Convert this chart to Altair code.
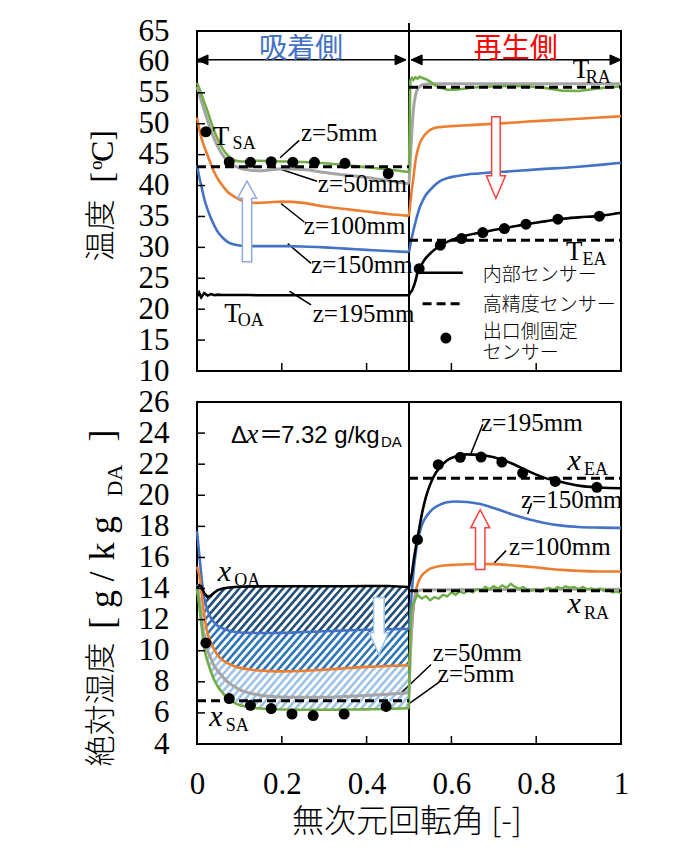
import numpy as np
import pandas as pd
import altair as alt

# ------------------------------------------------------------------ data
XL = [0, 0.005, 0.01, 0.017, 0.025, 0.033, 0.041, 0.049, 0.06, 0.072, 0.088,
      0.104, 0.123, 0.143, 0.17, 0.2, 0.25, 0.3, 0.35, 0.4, 0.45, 0.5]
XR = [0.5, 0.503, 0.507, 0.51, 0.515, 0.52, 0.525, 0.532, 0.54, 0.55, 0.56,
      0.575, 0.59, 0.61, 0.637, 0.665, 0.7, 0.74, 0.78, 0.82, 0.86, 0.9, 0.95, 1.0]
XG = [0.5, 0.503, 0.506, 0.51, 0.52, 0.53, 0.54, 0.55, 0.56, 0.57, 0.58, 0.59,
      0.60, 0.61, 0.62, 0.63, 0.64, 0.65, 0.66, 0.67, 0.68, 0.69, 0.70, 0.71,
      0.72, 0.73, 0.74, 0.75, 0.76, 0.77, 0.78, 0.79, 0.80, 0.81, 0.82, 0.83,
      0.84, 0.85, 0.86, 0.87, 0.88, 0.89, 0.90, 0.91, 0.92, 0.93, 0.94, 0.95,
      0.96, 0.97, 0.98, 0.99, 1.00]

# temperature [degC]
T_GREEN_L = [56.6, 55.8, 54.8, 53.5, 52.0, 50.3, 48.8, 47.5, 46.0, 44.9, 44.1,
             43.9, 43.95, 44.0, 43.95, 43.9, 43.8, 43.6, 43.3, 42.95, 42.6, 42.2]
T_GRAY_L = [56.0, 54.9, 53.7, 52.2, 50.5, 48.9, 47.5, 46.3, 45.0, 44.0, 43.2,
            42.75, 42.5, 42.4, 42.5, 42.7, 42.6, 42.1, 41.7, 41.3, 40.8, 40.3]
T_ORANGE_L = [51.0, 49.3, 47.8, 46.3, 44.9, 43.4, 42.1, 41.1, 40.0, 39.0, 38.2,
              37.6, 37.3, 37.2, 37.3, 37.4, 37.2, 36.6, 36.2, 35.8, 35.4, 35.1]
T_BLUE_L = [43.3, 41.5, 40.0, 37.9, 36.1, 34.7, 33.5, 32.5, 31.6, 30.9, 30.45,
            30.25, 30.2, 30.2, 30.2, 30.2, 30.15, 30.0, 29.8, 29.6, 29.4, 29.25]
T_BLACK_L = [22.0, 22.7, 21.9, 22.6, 22.2, 22.45, 22.25, 22.35, 22.3, 22.3, 22.3,
             22.3, 22.3, 22.25, 22.25, 22.25, 22.25, 22.25, 22.25, 22.25, 22.25, 22.25]
T_GREEN_R = [42.2, 57.0, 57.4, 57.1, 57.5, 57.3, 57.6, 57.4, 57.2, 56.8, 56.3,
             55.8, 55.5, 55.5, 55.75, 55.95, 56.05, 56.1, 56.05, 55.8, 55.35, 55.3, 55.75, 56.05]
T_GRAY_R = [40.3, 44.0, 49.0, 52.0, 54.5, 55.6, 56.0, 56.3, 56.4, 56.45, 56.45,
            56.45, 56.45, 56.45, 56.45, 56.45, 56.45, 56.45, 56.45, 56.45, 56.45, 56.45, 56.45, 56.45]
T_ORANGE_R = [35.1, 37.0, 39.5, 41.0, 43.9, 45.6, 46.7, 47.7, 48.4, 49.0, 49.3,
              49.45, 49.55, 49.65, 49.75, 49.85, 50.0, 50.15, 50.35, 50.5, 50.65, 50.8, 51.0, 51.2]
T_BLUE_R = [29.25, 30.3, 31.7, 32.6, 34.0, 35.3, 36.4, 37.5, 38.5, 39.3, 40.0,
            40.8, 41.2, 41.5, 41.8, 41.95, 42.15, 42.3, 42.5, 42.7, 42.85, 43.05, 43.35, 43.7]
T_BLACK_R = [22.25, 22.7, 23.0, 23.5, 24.5, 25.9, 26.6, 27.5, 28.3, 29.0, 29.6,
             30.35, 30.9, 31.45, 31.95, 32.35, 32.8, 33.3, 33.8, 34.2, 34.6, 34.85, 35.1, 35.6]
T_DOT_X = [0.021, 0.076, 0.126, 0.175, 0.226, 0.277, 0.349, 0.451,
           0.524, 0.574, 0.624, 0.674, 0.725, 0.776, 0.851, 0.949]
T_DOT_V = [48.7, 43.8, 43.75, 43.85, 43.75, 43.75, 43.6, 41.95,
           26.56, 30.35, 31.42, 32.39, 33.04, 33.75, 34.56, 35.05]
T_SA, T_RA, T_EA = 43.05, 55.9, 31.15

# absolute humidity [g/kgDA]
H_BLACK_L = [14.0, 14.2, 14.15, 13.7, 13.45, 13.55, 13.75, 13.9, 14.0, 14.05, 14.1,
             14.12, 14.14, 14.14, 14.15, 14.15, 14.15, 14.15, 14.15, 14.16, 14.16, 14.1]
H_BLUE_L = [17.7, 16.3, 14.9, 13.4, 12.6, 12.1, 11.8, 11.6, 11.45, 11.32, 11.22,
            11.17, 11.15, 11.14, 11.14, 11.15, 11.2, 11.25, 11.3, 11.35, 11.38, 11.4]
H_ORANGE_L = [15.4, 14.9, 13.9, 12.3, 11.1, 10.5, 10.05, 9.7, 9.4, 9.2, 9.0,
              8.88, 8.8, 8.73, 8.69, 8.67, 8.7, 8.78, 8.87, 8.96, 9.02, 9.06]
H_GRAY_L = [14.0, 13.3, 12.2, 10.8, 10.0, 9.5, 9.0, 8.7, 8.35, 8.0, 7.7,
            7.45, 7.28, 7.17, 7.07, 7.02, 7.0, 7.0, 7.05, 7.12, 7.2, 7.3]
H_GREEN_L = [14.0, 13.0, 11.8, 10.2, 9.3, 8.65, 8.1, 7.7, 7.3, 6.95, 6.65,
             6.47, 6.36, 6.3, 6.25, 6.22, 6.2, 6.2, 6.21, 6.23, 6.26, 6.3]
H_BLACK_R = [14.1, 14.5, 15.0, 15.6, 16.5, 17.2, 18.0, 19.0, 19.9, 20.7, 21.3,
             21.85, 22.25, 22.5, 22.63, 22.6, 22.45, 22.08, 21.57, 21.12, 20.85, 20.62, 20.5, 20.45]
H_BLUE_R = [11.4, 12.5, 13.9, 14.9, 16.1, 17.0, 17.6, 18.2, 18.6, 18.95, 19.2,
            19.42, 19.55, 19.6, 19.57, 19.45, 19.18, 18.8, 18.48, 18.22, 18.05, 17.96, 17.92, 17.9]
H_ORANGE_R = [9.06, 10.0, 11.6, 12.6, 13.7, 14.25, 14.6, 14.9, 15.1, 15.28, 15.37,
              15.45, 15.5, 15.53, 15.56, 15.58, 15.57, 15.5, 15.41, 15.3, 15.2, 15.14, 15.1, 15.1]
H_GRAY_R = [7.3, 9.5, 11.8, 12.9, 13.5, 13.8, 13.88, 13.92, 13.93, 13.93, 13.93,
            13.93, 13.93, 13.93, 13.94, 13.94, 13.94, 13.94, 13.94, 13.95, 13.95, 13.95, 13.95, 13.95]
H_GREEN_R = [6.3, 11.0, 12.6, 13.0, 13.6, 13.35, 13.5, 13.25, 13.45, 13.35, 13.6, 13.5,
             13.75, 13.6, 13.8, 13.7, 13.9, 13.75, 13.95, 13.85, 14.1, 13.95, 14.15, 14.0,
             14.2, 14.05, 14.3, 14.1, 14.0, 14.1, 13.9, 13.85, 13.95, 13.8, 13.95, 14.05,
             13.9, 14.1, 14.0, 14.15, 14.05, 14.1, 13.95, 14.1, 13.95, 14.0, 13.9, 14.0,
             13.85, 13.95, 13.75, 13.8, 13.7]
H_DOT_X = [0.021, 0.076, 0.126, 0.175, 0.224, 0.274, 0.347, 0.446,
           0.52, 0.569, 0.621, 0.67, 0.719, 0.768, 0.845, 0.943]
H_DOT_V = [10.5, 6.92, 6.49, 6.28, 5.93, 5.83, 5.93, 6.42,
           17.14, 21.97, 22.44, 22.46, 22.14, 21.43, 20.89, 20.51]
X_SA, X_EA, X_RA = 6.79, 21.1, 13.86

X_TICKS = [0, 0.2, 0.4, 0.6, 0.8, 1.0]
X_INNER = [0.2, 0.4, 0.6, 0.8]
Y_TOP_TICKS = [10, 15, 20, 25, 30, 35, 40, 45, 50, 55, 60, 65]
Y_BOT_TICKS = [4, 6, 8, 10, 12, 14, 16, 18, 20, 22, 24, 26]

# annotation text
TOP_Z_TEXT = ["z=5mm", "z=50mm", "z=100mm", "z=150mm", "z=195mm"]
TOP_Z_X = [0.245, 0.285, 0.252, 0.269, 0.273]
TOP_Z_V = [47.2, 39.0, 32.2, 25.9, 17.9]
TOP_LEAD = [(0.196, 44.5, 0.241, 47.3), (0.192, 42.76, 0.283, 40.7),
            (0.198, 37.09, 0.253, 34.1), (0.214, 30.6, 0.269, 27.4),
            (0.218, 22.9, 0.269, 20.7)]
BOT_Z_TEXT = ["z=195mm", "z=150mm", "z=100mm", "z=50mm", "z=5mm"]
BOT_Z_X = [0.670, 0.764, 0.736, 0.556, 0.568]
BOT_Z_V = [24.11, 19.18, 16.18, 9.36, 7.97]
BOT_LEAD = [(0.646, 22.68, 0.674, 24.57), (0.780, 18.79, 0.789, 19.5),
            (0.701, 15.64, 0.729, 16.44), (0.481, 7.28, 0.552, 9.11),
            (0.497, 6.53, 0.572, 8.0)]
T_MAIN = [(0.037, 46.56), (0.064, 17.92), (0.886, 57.35), (0.870, 28.0)]
T_SUB = [("SA", 0.084, 45.96), ("OA", 0.096, 17.27), ("RA", 0.917, 56.54), ("EA", 0.909, 27.15)]
X_MAIN = [(0.049, 14.46), (0.029, 5.14), (0.874, 21.65), (0.874, 12.42)]
X_SUB = [("OA", 0.088, 14.14), ("SA", 0.068, 4.82), ("EA", 0.913, 21.32), ("RA", 0.913, 12.04)]
LEG_TEXT = ["内部センサー", "高精度センサー", "出口側固定", "センサー"]
LEG_V = [25.45, 20.7, 16.23, 12.88]

# ------------------------------------------------------------------ style
W, HT, HB = 424, 340, 342
SERIF = "Liberation Serif"
SANS = "Liberation Sans"
JP = "Noto Sans CJK JP"
C_BLUE, C_ORANGE, C_GRAY, C_GREEN = "#4472C4", "#ED7D31", "#A5A5A5", "#70AD47"
ONE = pd.DataFrame({"a": [0]})

XSC = alt.Scale(domain=[0, 1], nice=False, zero=False)
YSC = {"top": alt.Scale(domain=[10, 65], nice=False, zero=False),
       "bot": alt.Scale(domain=[4, 26], nice=False, zero=False)}
AXX = {"top": None,
       "bot": alt.Axis(values=X_TICKS, format="~g", labelPadding=25, ticks=False, tickSize=0,
                       domain=False, grid=False, title=None, labelFont=SERIF, labelFontSize=31,
                       labelColor="black", labelFlush=False, labelOverlap=False)}
AXY = {p: alt.Axis(values=v, labelPadding=28, ticks=False, tickSize=0, domain=False,
                   grid=False, title=None, labelFont=SERIF, labelFontSize=31,
                   labelColor="black", labelFlush=False, labelOverlap=False)
       for p, v in (("top", Y_TOP_TICKS), ("bot", Y_BOT_TICKS))}


def xq(f, p):
    return alt.X(f"{f}:Q", scale=XSC, axis=AXX[p])


def yq(f, p):
    return alt.Y(f"{f}:Q", scale=YSC[p], axis=AXY[p])


def curve(p, xv, yv, color, width=2.6, interp="monotone"):
    df = pd.DataFrame({"X": xv, "V": yv})
    return alt.Chart(df).mark_line(color=color, strokeWidth=width, interpolate=interp).encode(
        x=xq("X", p), y=yq("V", p))


def dashed(p, x0, x1, v):
    df = pd.DataFrame({"X": [x0, x1], "V": [v, v]})
    return alt.Chart(df).mark_line(color="black", strokeWidth=3, strokeDash=[9, 5]).encode(
        x=xq("X", p), y=yq("V", p))


def dots(p, xv, yv):
    df = pd.DataFrame({"X": xv, "V": yv})
    return alt.Chart(df).mark_circle(size=121, color="black", opacity=1).encode(
        x=xq("X", p), y=yq("V", p))


def segs(p, rows, width=1.5, color="black", dash=None):
    df = pd.DataFrame(rows, columns=["X", "V", "X2", "V2"])
    kw = dict(color=color, strokeWidth=width)
    if dash:
        kw["strokeDash"] = dash
    return alt.Chart(df).mark_rule(**kw).encode(
        x=xq("X", p), y=yq("V", p), x2="X2:Q", y2="V2:Q")


def dtext(p, texts, xv, yv, size, font, style="normal", color="black",
          align="left", baseline="alphabetic", weight=400):
    df = pd.DataFrame({"X": xv, "V": yv, "T": texts})
    return alt.Chart(df).mark_text(font=font, fontSize=size, fontStyle=style, color=color,
                                   align=align, baseline=baseline, fontWeight=weight).encode(
        x=xq("X", p), y=yq("V", p), text="T:N")


def ptext(text, px, py, size, font, angle=0, align="left", baseline="alphabetic",
          color="black", weight=400):
    return alt.Chart(ONE).mark_text(text=text, font=font, fontSize=size, angle=angle,
                                    align=align, baseline=baseline, color=color,
                                    fontWeight=weight).encode(
        x=alt.value(px), y=alt.value(py))


def symbol(p, xv, yv, shape, size, stroke, sw=1.5, fill="white"):
    df = pd.DataFrame({"X": xv, "V": yv})
    return alt.Chart(df).mark_point(shape=shape, size=size, filled=True, fill=fill,
                                    stroke=stroke, strokeWidth=sw, opacity=1,
                                    fillOpacity=1, strokeOpacity=1).encode(
        x=xq("X", p), y=yq("V", p))


def yticks(p, vals):
    df = pd.DataFrame({"t": vals})
    return alt.Chart(df).mark_rule(color="black", strokeWidth=1.5).encode(
        y=yq("t", p), x=alt.value(0), x2=alt.value(8))


def xticks(p, vals, H):
    df = pd.DataFrame({"t": vals})
    return alt.Chart(df).mark_rule(color="black", strokeWidth=1.5).encode(
        x=xq("t", p), y=alt.value(H), y2=alt.value(H - 8))


def divider(p, y0, H):
    df = pd.DataFrame({"X": [0.5]})
    return alt.Chart(df).mark_rule(color="black", strokeWidth=2).encode(
        x=xq("X", p), y=alt.value(y0), y2=alt.value(H))


def anchor(px, py):
    return alt.Chart(ONE).mark_rule(strokeOpacity=0, color="white").encode(
        x=alt.value(px), x2=alt.value(px + 8), y=alt.value(py), y2=alt.value(py))


# ------------------------------------------------------------------ hatch (bottom, sorption side)
S = 1.15 * W / (HB / 22.0)
xs = np.linspace(0.0, 0.5, 2001)
blk = np.interp(xs, XL, H_BLACK_L)
blu = np.interp(xs, XL, H_BLUE_L)
org = np.interp(xs, XL, H_ORANGE_L)
grn = np.interp(xs, XL, H_GREEN_L)
bands = [("a", blk, blu), ("b", blu, org), ("c", org, grn)]
hrows = []
dc = S * 7.3 / W
c = 5.5 - S * 0.5
while c < 14.6:
    line = c + S * xs
    for name, up, lo in bands:
        idx = np.nonzero((line <= up) & (line >= lo))[0]
        if idx.size < 2:
            continue
        for run in np.split(idx, np.where(np.diff(idx) > 1)[0] + 1):
            if run.size >= 2:
                hrows.append((xs[run[0]], line[run[0]], xs[run[-1]], line[run[-1]], name))
    c += dc
hdf = pd.DataFrame(hrows, columns=["X", "V", "X2", "V2", "band"])
HATCH_COL = {"a": "#1F4E79", "b": "#2E75B6", "c": "#9DC3E6"}
hatch = [segs("bot", hdf[hdf.band == k][["X", "V", "X2", "V2"]].values.tolist(),
              width=2.6, color=col) for k, col in HATCH_COL.items()]

# ------------------------------------------------------------------ arrows
HEAD_L = "M0,0 L2,-0.9 L2,0.9 Z"
HEAD_R = "M0,0 L-2,-0.9 L-2,0.9 Z"
UP_TL = "M0,0 L1,1.8 L0.49,1.8 L0.49,8.5 L-0.49,8.5 L-0.49,1.8 L-1,1.8 Z"
DN_TR = "M0,0 L1,-2.4 L0.45,-2.4 L0.45,-8.6 L-0.45,-8.6 L-0.45,-2.4 L-1,-2.4 Z"
DN_BL = "M0,0 L1,-2.3 L0.56,-2.3 L0.56,-6 L-0.56,-6 L-0.56,-2.3 L-1,-2.3 Z"
UP_BR = "M0,0 L1,1.9 L0.49,1.9 L0.49,6.3 L-0.49,6.3 L-0.49,1.9 L-1,1.9 Z"
ARR_V = 60.33

# ------------------------------------------------------------------ top panel
top_layers = [
    anchor(-188, -21.5),
    divider("top", -8, HT),
    segs("top", TOP_LEAD),
    curve("top", XL, T_BLUE_L, C_BLUE), curve("top", XR, T_BLUE_R, C_BLUE),
    curve("top", XL, T_ORANGE_L, C_ORANGE), curve("top", XR, T_ORANGE_R, C_ORANGE),
    curve("top", XL, T_GRAY_L, C_GRAY, 3), curve("top", XR, T_GRAY_R, C_GRAY, 3),
    curve("top", XL, T_GREEN_L, C_GREEN), curve("top", XR, T_GREEN_R, C_GREEN, 2.6, "linear"),
    curve("top", XL, T_BLACK_L, "black", 2.6, "linear"), curve("top", XR, T_BLACK_R, "black"),
    dashed("top", 0, 0.5, T_SA), dashed("top", 0.5, 1.0, T_RA), dashed("top", 0.5, 1.0, T_EA),
    dots("top", T_DOT_X, T_DOT_V),
    segs("top", [(0.0, ARR_V, 0.493, ARR_V), (0.505, ARR_V, 1.0, ARR_V)], width=1.5),
    symbol("top", [0.0, 0.505], [ARR_V, ARR_V], HEAD_L, 121, "black", 1, "black"),
    symbol("top", [0.493, 1.0], [ARR_V, ARR_V], HEAD_R, 121, "black", 1, "black"),
    symbol("top", [0.118], [40.72], UP_TL, 361, "#8FAADC"),
    symbol("top", [0.705], [37.9], DN_TR, 361, "#FF4040"),
    dtext("top", ["吸着側"], [0.245], [61.85], 28, JP, color=C_BLUE, align="center", baseline="middle"),
    dtext("top", ["再生側"], [0.752], [61.85], 28, JP, color="#FF0000", align="center", baseline="middle"),
    dtext("top", TOP_Z_TEXT, TOP_Z_X, TOP_Z_V, 25, SERIF),
    dtext("top", ["T"] * 4, [m[0] for m in T_MAIN], [m[1] for m in T_MAIN], 27, SERIF),
    dtext("top", [s[0] for s in T_SUB], [s[1] for s in T_SUB], [s[2] for s in T_SUB], 18, SERIF),
    # legend
    segs("top", [(0.525, 25.9, 0.627, 25.9)], width=2.6),
    segs("top", [(0.532, 20.88, 0.63, 20.88)], width=3, dash=[9, 5]),
    dots("top", [0.587], [15.32]),
    dtext("top", LEG_TEXT, [0.674] * 4, LEG_V, 19, JP, baseline="middle", weight=300),
    yticks("top", Y_TOP_TICKS[1:-1]),
    xticks("top", X_INNER, HT),
    # y title
    ptext("温度", -86.5, 230.5, 31, JP, angle=270, weight=300),
    ptext("[", -84, 151.5, 32, SERIF, angle=270),
    ptext("o", -95, 139, 19, SERIF, angle=270),
    ptext("C]", -84, 131, 32, SERIF, angle=270),
]
top = alt.layer(*top_layers).properties(width=W, height=HT)

# ------------------------------------------------------------------ bottom panel
bot_layers = hatch + [
    anchor(-150, HB + 100),
    divider("bot", 0, HB),
    segs("bot", BOT_LEAD),
    curve("bot", XL, H_BLUE_L, C_BLUE), curve("bot", XR, H_BLUE_R, C_BLUE),
    curve("bot", XL, H_ORANGE_L, C_ORANGE), curve("bot", XR, H_ORANGE_R, C_ORANGE),
    curve("bot", XL, H_GRAY_L, C_GRAY, 3), curve("bot", XR, H_GRAY_R, C_GRAY, 3),
    curve("bot", XL, H_GREEN_L, C_GREEN), curve("bot", XG, H_GREEN_R, C_GREEN, 2.4, "linear"),
    curve("bot", XL, H_BLACK_L, "black", 2.6, "linear"), curve("bot", XR, H_BLACK_R, "black"),
    dashed("bot", 0, 0.5, X_SA), dashed("bot", 0.5, 1.0, X_EA), dashed("bot", 0.5, 1.0, X_RA),
    dots("bot", H_DOT_X, H_DOT_V),
    symbol("bot", [0.429], [9.75], DN_BL, 361, "#9DC3E6"),
    symbol("bot", [0.668], [19.07], UP_BR, 361, "#FF4040"),
    dtext("bot", BOT_Z_TEXT, BOT_Z_X, BOT_Z_V, 25, SERIF),
    dtext("bot", ["x"] * 4, [m[0] for m in X_MAIN], [m[1] for m in X_MAIN], 30, SERIF, style="italic"),
    dtext("bot", [s[0] for s in X_SUB], [s[1] for s in X_SUB], [s[2] for s in X_SUB], 18, SERIF),
    dtext("bot", ["Δ"], [0.080], [23.34], 24, SANS),
    dtext("bot", ["x"], [0.1156], [23.34], 28, SERIF, style="italic"),
    dtext("bot", ["＝"], [0.146], [23.34], 24, JP),
    dtext("bot", ["7.32 g/kg"], [0.198], [23.34], 24, SANS),
    dtext("bot", ["DA"], [0.434], [23.08], 15, SANS),
    yticks("bot", Y_BOT_TICKS[1:-1]),
    xticks("bot", X_INNER, HB),
    # y title
    ptext("絶対湿度", -86.5, 364.4, 31, JP, angle=270, weight=300),
    ptext("[", -83, 227.1, 36, SERIF, angle=270),
    ptext("g", -83, 205.9, 36, SERIF, angle=270),
    ptext("/", -83, 179.4, 36, SERIF, angle=270),
    ptext("k", -83, 158.4, 36, SERIF, angle=270),
    ptext("g", -83, 131.9, 36, SERIF, angle=270),
    ptext("DA", -75, 94.4, 22, SERIF, angle=270),
    ptext("]", -83, 39.4, 36, SERIF, angle=270),
    # x title
    ptext("無次元回転角 [-]", 210, 420, 32, JP, align="center", baseline="middle", weight=300),
]
bot = alt.layer(*bot_layers).properties(width=W, height=HB)

chart = alt.vconcat(top, bot, spacing=31, bounds="flush").properties(padding=0).configure_view(
    stroke="black", strokeWidth=2)

chart.save("out.html", embed_options={"renderer": "svg", "actions": False})
